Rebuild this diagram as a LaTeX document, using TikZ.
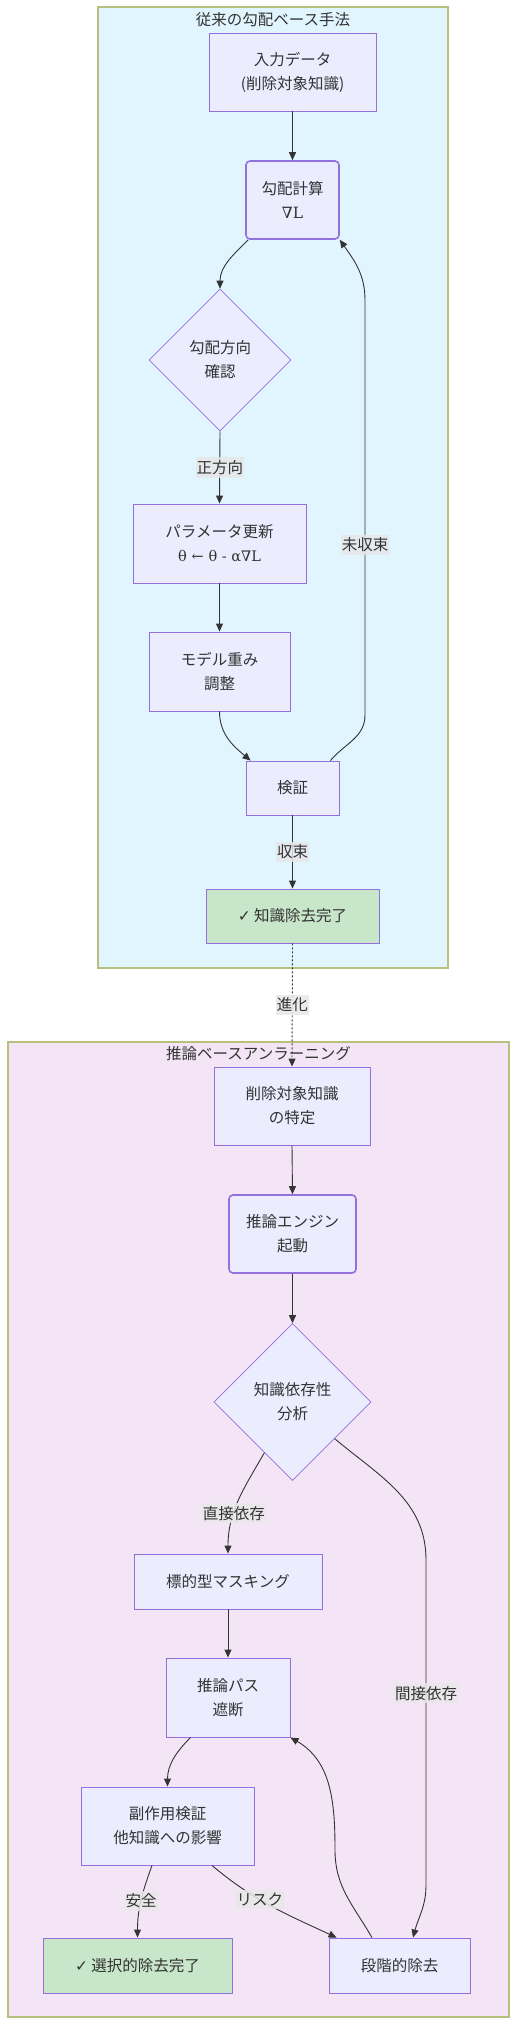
\documentclass[tikz,border=0pt]{standalone}
\usepackage{fontspec}
\setmainfont{Noto Sans CJK JP}
\newfontfamily\symfont{DejaVu Sans}
\newfontfamily\formfont{DejaVu Serif}
\usetikzlibrary{shapes.geometric, arrows.meta}
\definecolor{mmFill}{RGB}{236, 236, 255}
\definecolor{mmStroke}{RGB}{147, 112, 219}
\definecolor{mmText}{RGB}{51, 51, 51}
\definecolor{mmEdge}{RGB}{51, 51, 51}
\definecolor{mmGreen}{RGB}{200, 230, 201}
\definecolor{clBlue}{RGB}{225, 245, 254}
\definecolor{clPurple}{RGB}{243, 229, 245}
\definecolor{clBorder}{RGB}{185, 192, 125}
\definecolor{tagBg}{RGB}{232, 232, 232}
\tikzset{
    base/.style={
        font=\fontsize{15.5}{24}\selectfont,
        text=mmText,
        align=center
    },
    process/.style={
        base,
        rectangle,
        draw=mmStroke,
        line width=0.9pt,
        fill=mmFill,
        inner sep=0pt
    },
    rprocess/.style={
        process,
        rounded corners=4pt,
        line width=1.6pt
    },
    decision/.style={
        base,
        diamond,
        aspect=1,
        draw=mmStroke,
        line width=0.6pt,
        fill=mmFill,
        inner sep=0pt
    },
    finish/.style={
        process,
        fill=mmGreen
    },
    group/.style={
        draw=clBorder,
        line width=1.2pt
    },
    grouptitle/.style={
        base,
        inner sep=0pt
    },
    flow/.style={
        ->,
        >={Triangle[length=8pt, width=7pt]},
        line width=0.9pt,
        color=mmEdge
    },
    tag/.style={
        base,
        fill=tagBg,
        fill opacity=0.85,
        text opacity=1,
        inner xsep=1pt,
        inner ysep=3pt
    }
}

\begin{document}
\begin{tikzpicture}[x=1pt, y=1pt]
  \useasboundingbox (0,0) rectangle (517,-2026);

  % Clusters
  \draw[group, fill=clBlue] (98,-7) rectangle (448,-968);
  \node[grouptitle] (gradTitle) at (273,-20) {従来の勾配ベース手法};
  \draw[group, fill=clPurple] (8,-1042) rectangle (509,-2017);
  \node[grouptitle] (reasonTitle) at (258.5,-1054) {推論ベースアンラーニング};

  % Gradient-based method
  \node[process, minimum width=167, minimum height=78] (input) at (292.5,-72) {入力データ\\(削除対象知識)};
  \node[rprocess, minimum width=93, minimum height=78] (grad) at (292.5,-200) {勾配計算\\{\formfont ∇L}};
  \node[decision, minimum width=142, minimum height=142] (check) at (220,-360) {勾配方向\\確認};
  \node[process, minimum width=173, minimum height=79] (param) at (219.5,-543.5) {パラメータ更新\\{\formfont\fontsize{14.5}{24}\selectfont θ\,\,←\,\,θ - α∇L}};
  \node[process, minimum width=141, minimum height=79] (weight) at (219.5,-671.5) {モデル重み\\調整};
  \node[process, minimum width=93, minimum height=54] (verify) at (292.5,-788) {検証};
  \node[finish, minimum width=173, minimum height=54] (doneA) at (292.5,-916) {{\symfont ✓} 知識除去完了};

  % Reasoning-based unlearning
  \node[process, minimum width=156, minimum height=78] (ident) at (292,-1106) {削除対象知識\\の特定};
  \node[rprocess, minimum width=127, minimum height=78] (engine) at (292.5,-1234) {推論エンジン\\起動};
  \node[decision, minimum width=157, minimum height=157] (depend) at (292.5,-1402) {知識依存性\\分析};
  \node[process, minimum width=188, minimum height=55] (mask) at (228,-1581.5) {標的型マスキング};
  \node[process, minimum width=124, minimum height=79] (cut) at (228,-1697.5) {推論パス\\遮断};
  \node[process, minimum width=173, minimum height=78] (sidefx) at (167.5,-1826) {副作用検証\\他知識への影響};
  \node[finish, minimum width=189, minimum height=55] (doneB) at (137.5,-1965.5) {{\symfont ✓} 選択的除去完了};
  \node[process, minimum width=141, minimum height=55] (stage) at (399.5,-1965.5) {段階的除去};

  % Edges, gradient-based
  \draw[flow] (input.south) -- (grad.north);
  \draw[flow] ([xshift=3pt]grad.south west) to[out=-135, in=90] (check.north);
  \draw[flow] (check.south) -- node[tag] {正方向} (param.north);
  \draw[flow] (param.south) -- (weight.north);
  \draw[flow] (weight.south) to[out=-90, in=140] ([xshift=5pt]verify.north west);
  \draw[flow] ([xshift=-9pt]verify.north east) to[out=50, in=-90] (365,-715)
    -- node[tag, pos=0.41] {未収束} (365,-300) to[out=90, in=-55] (grad.south east);
  \draw[flow] (verify.south) -- node[tag] {収束} (doneA.north);
  \draw[flow, dash pattern=on 2pt off 2pt] (doneA.south) -- node[tag] {進化} (ident.north);

  % Edges, reasoning-based
  \draw[flow] (ident.south) -- (engine.north);
  \draw[flow] (engine.south) -- (depend.north);
  \draw[flow] (depend.-119) to[out=-120, in=90] node[tag, pos=0.63] {直接依存} (mask.north);
  \draw[flow] (depend.-41) to[out=-40, in=90] (426,-1560)
    -- node[tag, pos=0.41] {間接依存} (426,-1885) to[out=-90, in=75] ([xshift=13.5pt]stage.north);
  \draw[flow] (mask.south) -- (cut.north);
  \draw[flow] ([xshift=25pt]cut.south west) to[out=-135, in=90] (sidefx.north);
  \draw[flow] ([xshift=-15.5pt]sidefx.south) to[out=-110, in=90] node[tag, pos=0.5] {安全} (doneB.north);
  \draw[flow] ([xshift=44.5pt]sidefx.south) to[out=-40, in=155] node[tag, pos=0.4] {リスク} ([xshift=8pt]stage.north west);
  \draw[flow] ([xshift=-27.5pt]stage.north) to[out=120, in=-90] (335,-1850)
    to[out=90, in=-30] (cut.south east);
\end{tikzpicture}
\end{document}
